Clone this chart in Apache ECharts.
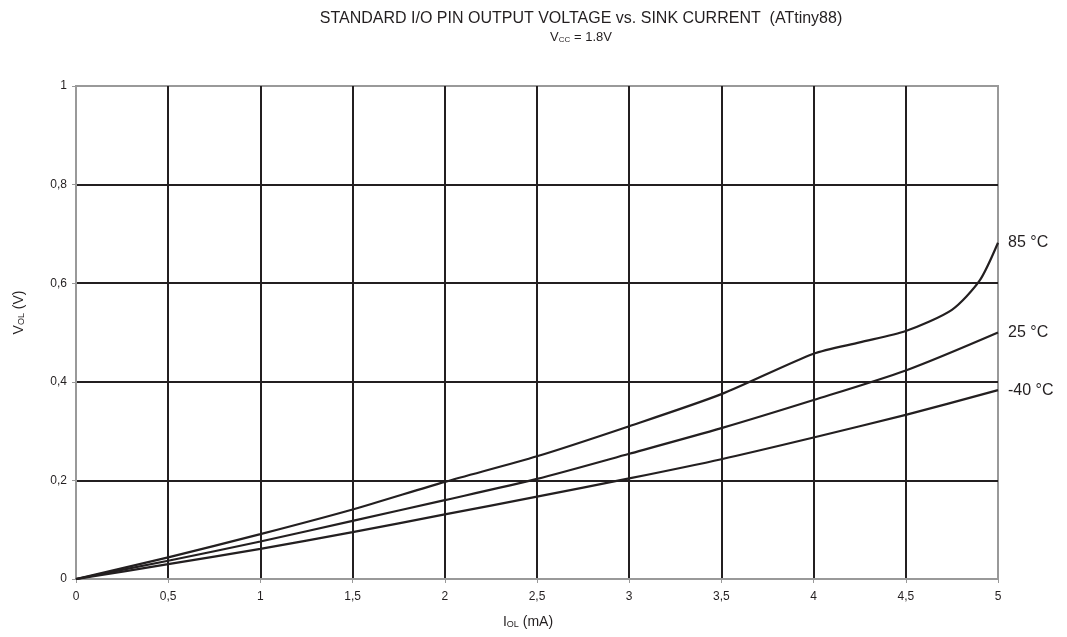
<!DOCTYPE html>
<html>
<head>
<meta charset="utf-8">
<script src="https://cdn.jsdelivr.net/npm/echarts@6/dist/echarts.min.js"></script>
<style>
  html, body { margin: 0; padding: 0; background: #fff; }
  #chart { width: 1067px; height: 637px; }
</style>
</head>
<body>
<div id="chart"></div>
<script>
// I_OL (mA) vs V_OL (V)
const t85 = [[0, 0], [0.5, 0.044], [1, 0.091], [1.5, 0.141], [2, 0.197], [2.5, 0.249], [3, 0.31], [3.5, 0.375], [4, 0.457], [4.25, 0.48], [4.5, 0.503], [4.75, 0.546], [4.9, 0.605], [5, 0.682]]
const t25 = [[0, 0], [0.5, 0.037], [1, 0.076], [1.5, 0.118], [2, 0.16], [2.5, 0.203], [3, 0.254], [3.5, 0.306], [4, 0.363], [4.5, 0.423], [5, 0.5]]
const tm40 = [[0, 0], [0.5, 0.03], [1, 0.061], [1.5, 0.095], [2, 0.131], [2.5, 0.167], [3, 0.204], [3.5, 0.243], [4, 0.287], [4.5, 0.333], [5, 0.383]]
const seriesNames = ['85 °C', '25 °C', '-40 °C']

const chart = echarts.init(document.getElementById('chart'))
const font = "'Liberation Sans', Arial, sans-serif"
const ink = '#231f20'

const mkSeries = (name, data) => ({
  name: name,
  type: 'line',
  data: data,
  smooth: 0.25,
  showSymbol: false,
  lineStyle: { color: ink, width: 2.2 },
  endLabel: {
    show: true,
    formatter: '{a}',
    color: ink,
    fontSize: 16,
    fontFamily: font,
    distance: 10,
  },
})

const subRich = (size) => ({
  n: { fontSize: size, color: ink, fontFamily: font },
  s: { fontSize: Math.round(size * 0.65), color: ink, fontFamily: font, verticalAlign: 'bottom', padding: [5, 0, 0, 0] },
})

chart.setOption({
  animation: false,
  title: {
    text: 'STANDARD I/O PIN OUTPUT VOLTAGE vs. SINK CURRENT  (ATtiny88)',
    subtext: '{n|V}{s|CC}{n| = 1.8V}',
    left: 576,
    textAlign: 'center',
    top: 6,
    itemGap: 4,
    textStyle: { fontSize: 16, fontWeight: 'normal', color: ink, fontFamily: font },
    subtextStyle: { rich: subRich(13) },
  },
  grid: {
    left: 76, right: 69, top: 86, bottom: 58,
    show: true, borderColor: '#999', borderWidth: 2,
  },
  xAxis: {
    type: 'value',
    min: 0, max: 5, interval: 0.5,
    name: '{n|I}{s|OL}{n| (mA)}',
    nameLocation: 'middle',
    nameGap: 36,
    nameTextStyle: { rich: subRich(14), padding: [0, 18, 0, 0] },
    axisLine: { lineStyle: { color: '#999', width: 2 } },
    axisTick: { show: true, length: 4, lineStyle: { color: '#999' } },
    axisLabel: {
      color: ink, fontSize: 12, fontFamily: font, margin: 12,
      formatter: (v) => String(v).replace('.', ','),
    },
    splitLine: { show: true, showMinLine: false, showMaxLine: false, lineStyle: { color: ink, width: 2 } },
  },
  yAxis: {
    type: 'value',
    min: 0, max: 1, interval: 0.2,
    name: '{n|V}{s|OL}{n| (V)}',
    nameLocation: 'middle',
    nameGap: 50,
    nameTextStyle: { rich: subRich(14), padding: [0, 0, 0, 40] },
    axisLine: { show: true, lineStyle: { color: '#999', width: 2 } },
    axisTick: { show: true, length: 4, lineStyle: { color: '#999' } },
    axisLabel: {
      color: ink, fontSize: 12, fontFamily: font, margin: 9,
      formatter: (v) => String(Math.round(v * 10) / 10).replace('.', ','),
    },
    splitLine: { show: true, showMinLine: false, showMaxLine: false, lineStyle: { color: ink, width: 2 } },
  },
  series: [
    mkSeries(seriesNames[0], t85),
    mkSeries(seriesNames[1], t25),
    mkSeries(seriesNames[2], tm40),
  ],
})
</script>
</body>
</html>
